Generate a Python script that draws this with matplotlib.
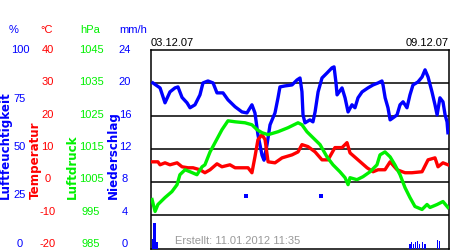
import matplotlib
matplotlib.use('Agg')
import matplotlib.pyplot as plt
import numpy as np

# hours since 03.12.07 00:00
hum_t = [1.1, 5.1, 7.9, 10.7, 13.5, 15.2, 17.5, 20.3, 22.0, 24.8, 27.6, 29.3, 32.1, 35.0,
         37.2, 40.6, 43.4, 47.4, 51.3, 54.1, 56.9, 58.6, 60.3, 62.6, 63.7, 65.4, 67.1,
         69.9, 71.6, 72.7, 75.5, 79.5, 82.3, 84.0, 85.1, 85.7, 86.8, 89.6, 91.3, 92.5,
         94.2, 96.4, 99.2, 102.0, 103.2, 104.3, 104.9, 107.7, 109.4, 111.1, 113.3, 115.0,
         116.7, 119.0, 122.3, 125.2, 128.0, 130.2, 130.8, 132.0, 133.6, 134.8, 136.4,
         138.7, 140.4, 142.1, 144.3, 146.0, 147.7, 150.5, 152.8, 154.5, 156.2, 158.4,
         160.1, 161.3, 162.9, 164.6, 165.8, 166.9, 167.4]
hum = [83.4, 80.9, 73.4, 78.9, 80.9, 81.4, 76.1, 73.4, 70.9, 72.4, 77.4, 83.4, 84.4, 83.4,
       78.4, 78.4, 74.9, 71.4, 68.8, 68.3, 72.4, 68.3, 57.3, 47.0, 44.5, 52.3, 62.3,
       68.3, 75.9, 81.4, 81.9, 82.4, 84.9, 85.9, 79.0, 67.3, 63.3, 64.8, 63.8, 68.8,
       78.9, 85.9, 88.4, 91.0, 91.5, 83.4, 77.4, 80.9, 75.9, 68.8, 72.4, 70.9,
       75.9, 78.9, 80.9, 82.4, 83.4, 84.4, 82.4, 75.9, 70.9, 64.8, 65.8,
       67.3, 72.4, 73.9, 70.9, 77.4, 82.4, 83.9, 86.4, 90.0, 86.4, 78.9,
       72.4, 67.3, 75.9, 73.9, 67.3, 63.8, 58.3]

temp_t = [0.6, 3.9, 5.1, 7.9, 10.7, 14.7, 17.5, 20.9, 23.7, 27.6, 30.4, 33.3, 37.2, 40.0,
          44.5, 47.4, 54.7, 56.9, 58.6, 60.3, 62.6, 64.3, 66.0, 69.9, 73.9, 79.5, 82.9,
          85.1, 88.5, 92.5, 96.4, 99.8, 103.7, 107.7, 110.5, 112.2, 116.7, 121.8, 125.2,
          128.0, 131.9, 134.8, 138.7, 143.2, 147.1, 152.8, 156.2, 160.1, 161.8, 164.6, 167.4]
temp = [6.2, 6.2, 5.3, 5.9, 5.3, 5.9, 4.7, 4.4, 4.4, 3.8, 2.9, 3.8, 5.6, 4.7,
        5.3, 4.4, 4.4, 2.9, 7.7, 12.9, 14.4, 12.9, 6.2, 5.9, 7.4, 8.3, 9.2,
        11.4, 10.8, 9.2, 6.8, 6.8, 10.5, 10.5, 12.0, 8.9, 6.8, 4.4, 3.2,
        3.8, 3.8, 6.2, 3.8, 2.9, 2.9, 3.2, 6.8, 7.4, 4.7, 5.9, 5.3]

pres_t = [0.6, 2.3, 3.9, 7.9, 11.8, 14.7, 16.3, 19.2, 22.0, 25.9, 28.8, 30.4, 33.3, 36.1,
          40.0, 43.4, 47.4, 53.0, 56.9, 59.8, 62.6, 66.0, 71.6, 77.2, 82.9, 85.1, 87.9,
          91.3, 95.3, 99.2, 102.6, 106.5, 109.4, 111.1, 112.2, 116.1, 119.5, 123.5, 127.4,
          129.1, 131.9, 134.8, 137.5, 140.4, 143.2, 146.0, 148.8, 152.8, 155.6, 157.3,
          161.3, 164.6, 167.4]
pres = [999.8, 996.2, 998.3, 1000.4, 1002.2, 1004.3, 1007.3, 1008.8, 1008.2, 1007.3, 1009.7,
        1010.3, 1014.2, 1017.0, 1020.9, 1023.6, 1023.3, 1023.0, 1022.4, 1020.9, 1020.0,
        1019.4, 1020.3, 1021.5, 1023.0, 1022.4, 1020.3, 1018.5, 1016.4, 1012.7, 1010.3,
        1008.2, 1006.4, 1004.3, 1006.4, 1005.8, 1006.7, 1008.2, 1010.3, 1013.3, 1014.2,
        1012.7, 1010.3, 1007.3, 1003.4, 1000.4, 997.7, 996.8, 998.3, 997.4, 998.3, 999.2,
        997.4]

rain_t = [0.6, 1.2, 1.7, 2.3, 2.8, 3.4, 146.0, 147.1, 148.2, 149.3, 150.5, 151.6, 152.8,
          154.0, 155.0, 161.3, 162.4]
rain = [1.2, 2.5, 3.1, 3.1, 2.0, 0.8, 0.6, 0.8, 0.5, 0.8, 0.9, 0.6, 0.8, 0.5, 0.5, 1.0, 0.9]
rain_dot_t = [53.6, 95.8]
rain_dot = [6.4, 6.4]

hum_ticks = [100, 75, 50, 25, 0]
temp_ticks = [40, 30, 20, 10, 0, -10, -20]
pres_ticks = [1045, 1035, 1025, 1015, 1005, 995, 985]
rain_ticks = [24, 20, 16, 12, 8, 4, 0]

BLUE = '#0000ff'
RED = '#ff0000'
GREEN = '#00f000'

fig = plt.figure(figsize=(4.5, 2.5), dpi=100)
W, H = 450.0, 250.0
top_px, bot_px, left_px, right_px = 50, 248.5, 151, 449
ax = fig.add_axes([left_px / W, 1 - bot_px / H, (right_px - left_px) / W, (bot_px - top_px) / H])
ax.set_xlim(0, 168)
ax.set_ylim(0, 6)
ax.set_xticks([])
ax.set_yticks([])
for y in range(1, 6):
    ax.axhline(y, color='black', lw=1.1, zorder=1)
for s in ax.spines.values():
    s.set_linewidth(1.1)

def twin(lo, hi):
    a = ax.twinx()
    a.set_ylim(lo, hi)
    a.set_yticks([])
    a.axis('off')
    return a

ax_h = twin(0, 100)
ax_t = twin(-20, 40)
ax_p = twin(985, 1045)
ax_r = twin(0, 24)

lw = 2.4
ax_r.bar(rain_t, rain, width=0.6, color=BLUE, zorder=2)
ax_r.plot(rain_dot_t, rain_dot, 's', color=BLUE, ms=2.5, mew=0)
ax_p.plot(pres_t, pres, color=GREEN, lw=lw)
ax_t.plot(temp_t, temp, color=RED, lw=lw)
ax_h.plot(hum_t, hum, color=BLUE, lw=lw)

font = 'Liberation Sans'
fs = 8

def fy(px):
    return 1 - px / H

# unit headers
for label, xc, col in [('%', 14, BLUE), ('°C', 47, RED), ('hPa', 90, GREEN), ('mm/h', 133, BLUE)]:
    fig.text(xc / W, fy(30), label, color=col, fontsize=fs, family=font, ha='center', va='center')

# tick label columns
def column(ticks, xc, col):
    lo, hi = min(ticks), max(ticks)
    for v in ticks:
        ypx = 244 - (v - lo) / (hi - lo) * 194
        fig.text(xc / W, fy(ypx), str(v), color=col, fontsize=fs, family=font, ha='center', va='center')

column(hum_ticks, 20, BLUE)
column(temp_ticks, 47.5, RED)
column(pres_ticks, 91, GREEN)
column(rain_ticks, 125, BLUE)

# rotated axis titles
for label, xc, col in [('Luftfeuchtigkeit', 5.5, BLUE), ('Temperatur', 35, RED),
                       ('Luftdruck', 72, GREEN), ('Niederschlag', 113, BLUE)]:
    fig.text(xc / W, fy(199), label, color=col, fontsize=8.6, family='DejaVu Sans',
             fontweight='bold', rotation=90, ha='center', va='bottom')

fig.text(151 / W, fy(43.5), '03.12.07', fontsize=fs, family=font, ha='left', va='center')
fig.text(449 / W, fy(43.5), '09.12.07', fontsize=fs, family=font, ha='right', va='center')
fig.text(175 / W, fy(241), 'Erstellt: 11.01.2012 11:35', fontsize=fs, family=font,
         color='#999999', ha='left', va='center', zorder=5)

fig.savefig('out.png', dpi=100)
